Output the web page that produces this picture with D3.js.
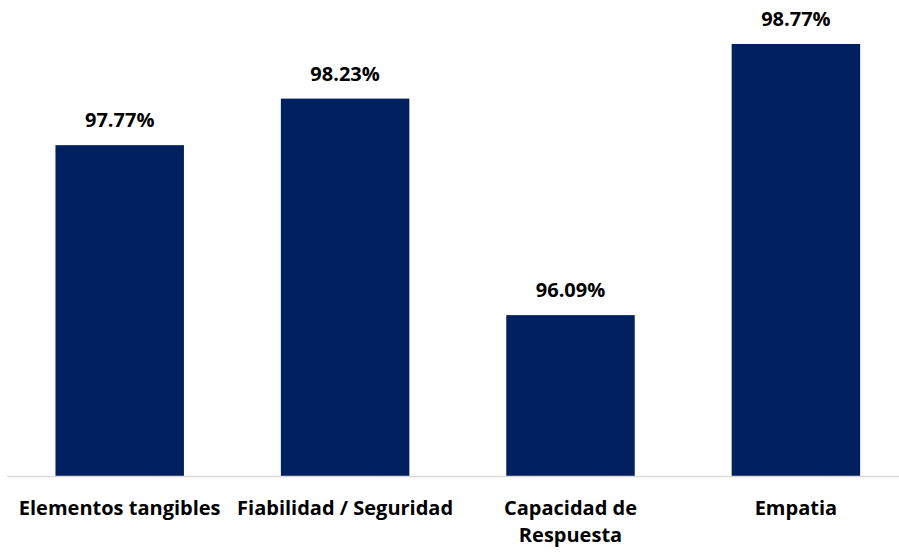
<!DOCTYPE html>
<html>
<head>
<meta charset="utf-8">
<script src="https://cdn.jsdelivr.net/npm/d3@7"></script>
<style>
  html, body { margin: 0; padding: 0; background: #fff; }
  svg { display: block; }
  text { font-family: "Open Sans", Lato, sans-serif; font-weight: 700; fill: #000; }
</style>
</head>
<body>
<svg id="chart" width="899" height="560"></svg>
<script>
// Service quality dimensions and their scores (%)
const categories = [["Elementos tangibles"], ["Fiabilidad / Seguridad"], ["Capacidad de", "Respuesta"], ["Empatia"]];
const keys = ["Elementos tangibles", "Fiabilidad / Seguridad", "Capacidad de Respuesta", "Empatia"];
const values = [97.77, 98.23, 96.09, 98.77];
const valueLabels = ["97.77%", "98.23%", "96.09%", "98.77%"];
const yDomain = [94.5, 99];

const svg = d3.select("#chart");
const W = 899, H = 560;
const plot = { left: 7, right: 908.6, top: 20.7, bottom: 476 };

const x = d3.scaleBand()
  .domain(keys)
  .range([plot.left, plot.right])
  .paddingInner(0.43)
  .paddingOuter(0.215);

const y = d3.scaleLinear()
  .domain(yDomain)
  .range([plot.bottom, plot.top]);

// Bars
svg.append("g").selectAll("rect")
  .data(values)
  .join("rect")
  .attr("x", (d, i) => x(keys[i]))
  .attr("width", x.bandwidth())
  .attr("y", d => y(d))
  .attr("height", d => y(yDomain[0]) - y(d))
  .attr("fill", "#002060");

// Category axis baseline
svg.append("line")
  .attr("x1", plot.left).attr("x2", W)
  .attr("y1", plot.bottom + 0.5).attr("y2", plot.bottom + 0.5)
  .attr("stroke", "#d9d9d9")
  .attr("stroke-width", 1.5);

// Value labels above bars
svg.append("g").selectAll("text")
  .data(values)
  .join("text")
  .attr("x", (d, i) => x(keys[i]) + x.bandwidth() / 2)
  .attr("y", d => y(d) - 18)
  .attr("text-anchor", "middle")
  .attr("font-size", 20)
  .text((d, i) => valueLabels[i]);

// Category labels (may wrap onto two lines)
const catG = svg.append("g").selectAll("text")
  .data(categories)
  .join("text")
  .attr("x", (d, i) => x(keys[i]) + x.bandwidth() / 2)
  .attr("y", 515)
  .attr("text-anchor", "middle")
  .attr("font-size", 20);
catG.selectAll("tspan")
  .data(d => d)
  .join("tspan")
  .attr("x", function () { return this.parentNode.getAttribute("x"); })
  .attr("dy", (d, i) => i === 0 ? 0 : 27)
  .text(d => d);
</script>
</body>
</html>
